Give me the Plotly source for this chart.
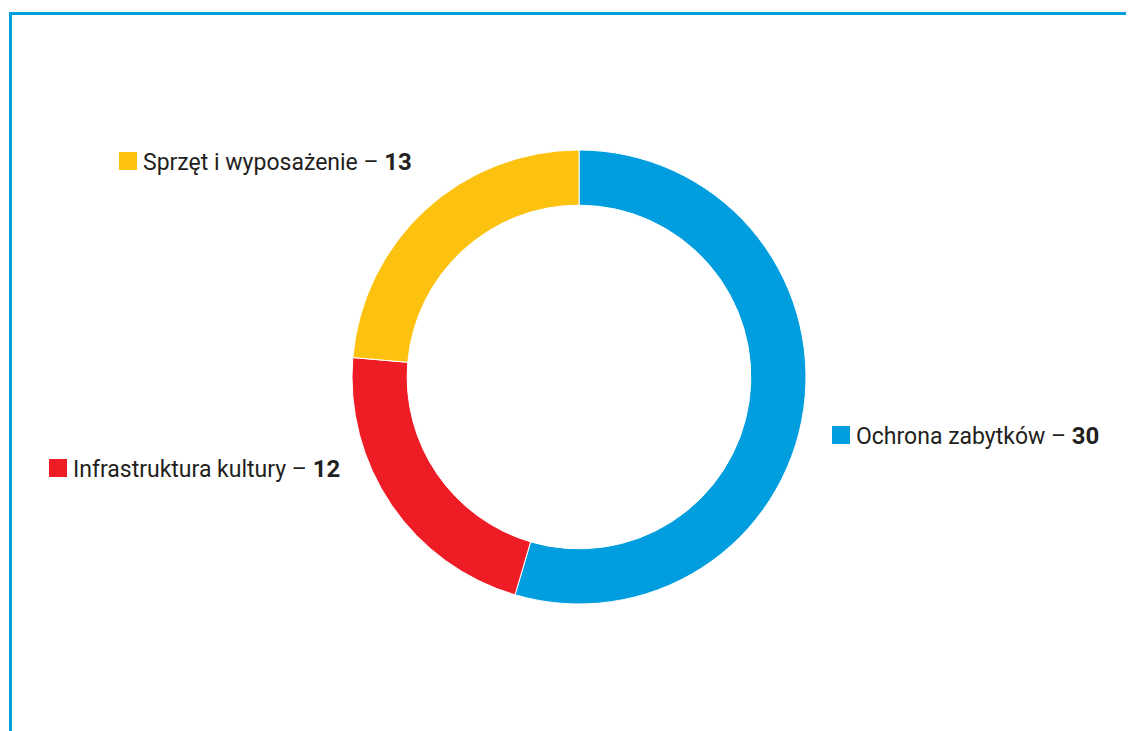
"""
Wykres pierścieniowy - liczba projektów wg kategorii
"""
import plotly.graph_objects as go

W, H = 1134, 731
OFF = 8  # page body margin

categories = ["Ochrona zabytków", "Infrastruktura kultury", "Sprzęt i wyposażenie"]
values = [30, 12, 13]
colors = ["#009EDF", "#EE1C25", "#FDC210"]

# label positions in pixels (left of square, vertical centre)
label_pos = [(832, 435), (49, 468), (119, 161)]


def px_x(x):
    return (x - OFF) / W


def px_y(y):
    return 1 - (y - OFF) / H


fig = go.Figure(go.Pie(
    labels=categories,
    values=values,
    hole=0.757,
    sort=False,
    direction='clockwise',
    rotation=0,
    marker=dict(colors=colors, line=dict(color='white', width=1)),
    textinfo='none',
    hoverinfo='label+value',
    domain=dict(x=[px_x(352), px_x(806)], y=[px_y(604), px_y(150)]),
    showlegend=False
))

shapes = [
    dict(type='line', xref='paper', yref='paper',
         x0=px_x(10.5), y0=px_y(13.5), x1=1.02, y1=px_y(13.5),
         line=dict(color='#009FE0', width=3)),
    dict(type='line', xref='paper', yref='paper',
         x0=px_x(10.5), y0=px_y(12), x1=px_x(10.5), y1=-0.02,
         line=dict(color='#009FE0', width=3)),
]
annotations = []
for name, val, col, (x, y) in zip(categories, values, colors, label_pos):
    shapes.append(dict(type='rect', xref='paper', yref='paper',
                       x0=px_x(x), x1=px_x(x + 18), y0=px_y(y - 9), y1=px_y(y + 9),
                       fillcolor=col, line=dict(width=0)))
    annotations.append(dict(
        xref='paper', yref='paper', x=px_x(x + 22), y=px_y(y + 1),
        xanchor='left', yanchor='middle', showarrow=False,
        text=f"{name} – <b style='font-size:24px'>{val}</b>",
        font=dict(family='Roboto', size=23, color='#231F20')
    ))

fig.update_layout(
    width=W, height=H,
    margin=dict(l=0, r=0, t=0, b=0),
    paper_bgcolor='white',
    plot_bgcolor='white',
    shapes=shapes,
    annotations=annotations
)

fig.write_html("out.html")
